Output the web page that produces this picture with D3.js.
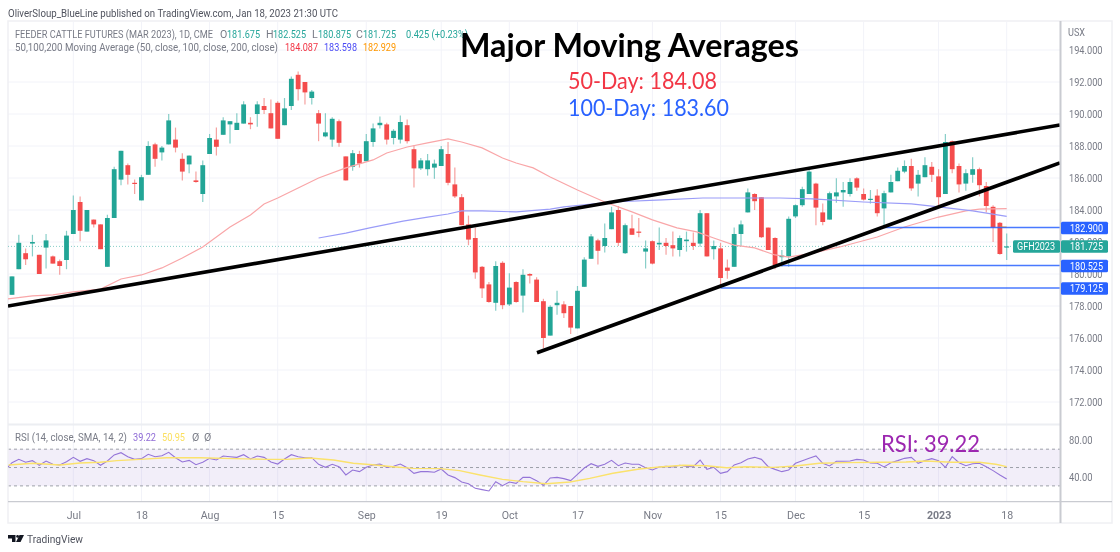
<!DOCTYPE html>
<html>
<head>
<meta charset="utf-8">
<script src="https://cdn.jsdelivr.net/npm/d3@7"></script>
<style>
html,body{margin:0;padding:0;background:#fff;}
text{font-family:Roboto,sans-serif;}
svg{filter:blur(0.3px);}
</style>
</head>
<body>
<div id="chart"></div>
<script>
// daily bars, first bar is index 0
var opens=[178.7,180.3,181.3,181.9,181.2,181.65,181.1,180.8,180.875,182.5,
184.5,182.65,183.4,183.1,180.45,183.5,185.9,186.8,185.7,184.6,
186.2,188.1,187.6,188.1,188.4,187.2,186.85,185.85,185,187.5,
188.4,188.7,189.35,189,189.4,189.45,190,190.5,190.05,190.7,
189.3,190.5,192.45,192,191,190.05,188.6,188.4,189.55,187.35,
186.7,187.5,187.05,188.25,189.3,189.35,188.5,188.4,189.3,187.8,
186.6,186.55,186.65,186.75,187.5,185.6,184.8,183.1,182.25,180.45,
179.35,178.2,180.7,178.1,179.5,178.65,180,179.65,178.3,176.15,
178.05,178.1,178,176.6,179.2,180.95,182.1,181.75,182.8,184,
181.3,182.85,182.65,181.4,182.05,181.85,181.95,181.8,181.5,182.05,
181.95,181.9,183.8,181.55,181.6,180.4,180.45,182.5,183.85,185,
184.8,182.9,182.25,181.05,181.1,183.6,184.3,185,185.65,183.85,
183.4,184.85,185.1,185,185.98,185,184.65,184.9,184.1,185.1,
185.8,186.4,186.75,185.65,186.05,186.7,186.1,185,188.3,186.75,
185.65,186.2,186.55,185.5,184.2,183.2,181.675];
var highs=[179.85,182.45,181.6,182.45,181.2,182.5,181.15,180.9,182.7,184.9,
184.85,184,183.4,183.1,183.7,186.7,187.7,186.9,185.9,186.2,
188.3,188.2,188,190,189.15,187.55,187.4,186.4,187.1,188.75,
189.15,189.8,189.55,190.05,190.8,189.8,190.8,191,190.9,190.8,
191,192.35,192.65,192,191.5,190.25,190.05,189.8,189.65,187.35,
187.75,187.7,188.75,189.4,189.85,189.45,189.05,189.9,189.65,188.05,
187.25,187.5,187.15,188,188.25,186.65,185,183.65,182.9,180.5,
179.5,180.8,180.8,180.05,179.55,180.3,180.05,179.8,178.45,178.05,
178.95,178.3,178,179.25,181.05,182.5,182.2,183.15,184.2,184.25,
183.15,183.7,183.5,182.1,182.1,182.9,182.25,182.65,182.4,182.65,
182.6,184,183.8,182.1,181.95,180.9,182.9,183.35,185.35,185.05,
184.8,182.9,182.3,181.5,183.6,184.35,185.45,186.7,185.7,184.4,
185.15,185.98,185.75,185.98,186.05,185.35,185.25,185.3,185.2,186.2,
186.65,187.1,187.2,186.5,187.3,187,186.55,188.75,188.35,186.9,
186.55,187.3,186.65,185.75,184.3,183.25,182.525];
var lows=[178.7,180.3,180.56,181.1,180,180.35,180.65,179.95,180.3,182.5,
182.05,182.65,182.9,181.55,180.45,183.5,185.55,185.6,185,184.6,
186.2,186.7,187.1,188.1,187.6,185.85,186.3,185.7,184.5,187.5,
187.4,188.7,188.15,189,189.4,189.05,189.2,190,189.1,188.45,
189.3,190.25,190.85,190.6,190.6,188.3,188.55,187.95,187.95,185.85,
186.45,186.65,187.05,187.95,189.1,188.1,188.1,188.15,188.15,185.4,
186.5,186.15,185.95,186.75,185.55,184.75,183.05,181.8,179.7,178.5,
178.2,177.7,177.8,178,178.2,177.6,179.4,178.25,175.35,176.15,
177.45,177.25,176.25,176.6,179.2,180.95,180.6,181.35,182.8,181.75,
181.25,182.45,182.3,180.35,180.6,181.5,181.2,181.1,181.1,181.4,
181.5,181.7,181.1,180.9,179.15,179.7,180.45,181.75,183.85,184,
182.25,181.5,180.3,180.45,180.45,183.5,184.2,185,183.05,183.05,
183.4,184.45,184.2,184.85,185.2,184.6,184.4,183.6,182.9,185.1,
185.8,186.3,185.2,184.85,186.05,185.75,184.25,185,186.3,185.1,
185.2,185.7,184.85,183.85,182,181.2,180.875];
var closes=[179.85,181.95,180.92,182,180,182.1,180.65,180.5,182.4,184,
182.7,184,183.1,181.55,183.5,186.55,187.7,186.2,185.65,186.05,
188,187.2,187.9,189.6,187.9,186.4,187.4,185.75,186.8,188.5,
187.95,189.6,189.55,189.45,190.6,189.35,190.6,190.25,189.1,188.45,
190.35,192.2,191.55,191.35,191.4,189.4,188.85,189.7,188.2,185.85,
187.55,186.9,188.3,189.1,189.45,188.4,188.95,189.5,188.3,186.6,
187.1,187.1,186.9,187.8,185.7,184.85,183.05,182.15,180.1,179.1,
178.25,180.5,178.05,179.15,178.25,179.95,179.9,178.25,176,177.95,
178.2,177.55,176.65,178.95,180.9,182.35,181.45,182.25,183.85,181.95,
183.05,182.45,182.6,181.6,180.65,181.95,181.75,181.6,182.25,182.15,
181.75,183.8,181.1,181.75,179.75,180.2,182.5,183.1,185.1,184.55,
182.3,181.5,180.55,181.15,183.45,184.3,185.3,186.4,184.15,183.25,
185.05,185.1,185.25,185.75,185.4,184.65,184.7,183.8,185.05,185.75,
186.45,186.75,185.35,186.2,186.8,186.2,184.8,188.25,186.55,185.6,
186.3,186.55,185.55,184.25,182.9,181.25,181.725];

// moving averages, bar index then value
var ma50Bars=[-0.6,3,6,9,13,16,19,22,25,28,32,35,37,39,42,45,49,53,55,58,61,64,66,69,72,74,76.5,79,83,87,91,94,97.6,100.5,103,106,109,112,114,117.5,121.5,127,131,136,140,142,146];
var ma50=[178.44,178.63,178.69,178.88,179.06,179.69,179.94,180.38,181,181.69,182.94,183.69,184.38,184.75,185.38,186,186.63,187.13,187.56,187.94,188.19,188.44,188.25,187.88,187.25,186.94,186.63,186.06,185.25,184.5,183.88,183.38,182.88,182.63,182.25,181.81,181.63,181.19,181.06,181.31,181.69,182.31,182.94,183.56,183.94,184.06,184.087];
var ma100Bars=[45,49,52.5,57.4,61,64,66,69,74,79,81,88,95.5,101.4,108,112.7,117.5,125,132,136,141,146];
var ma100=[182.25,182.56,182.88,183.31,183.56,183.75,183.94,183.94,183.88,184.06,184.19,184.5,184.63,184.75,184.75,184.75,184.69,184.5,184.38,184.19,183.94,183.598];
var ma200Bars=[145,146];
var ma200=[182.94,182.929];

// rsi, starts one bar before the first candle
var rsi=[47.3,55.3,58.9,55.7,57.5,52.4,57.1,53.5,52.8,56.4,61.1,56.8,59.7,57.5,52.4,57.1,63.7,66.2,61.8,58.9,59.7,64.4,61.8,62.9,66.6,60.7,56,57.8,53.1,55.7,60,58.2,62.6,61.8,61.1,64,59.3,62.6,61.1,56,53.8,59.3,64,61.8,60.7,60.7,53.5,50.2,53.5,50.9,41.9,47.3,45.5,50.2,52.8,
53.8,50.2,51.3,53.8,49.8,43.7,45.5,45.5,44.8,48.4,41.9,39,34.2,32.4,27.3,25.9,24.4,34.6,30.2,34.2,32.8,39.3,39.3,35.7,30.6,38.6,39.3,37.9,35.7,42.6,49.5,54.2,51.3,53.5,57.8,52,54.9,53.5,53.5,49.8,47.3,50.6,51.3,50.6,52.4,51.3,50.9,58.2,48,50.2,43.7,45.5,52.8,55.3,59.3,
61.1,58.9,50.9,48,45.5,47.3,54.6,57.5,60,62.6,54.6,51.7,56.8,56.8,57.1,58.9,58.2,54.9,54.6,50.6,55.3,57.5,60,61.1,54.6,57.5,59.7,57.5,50.2,61.8,55.3,52,54.2,54.6,50.9,46.6,41.9,37.5,39.22];
var rsiSmaBars=[-0.5,3.1,7,10,12.9,15.4,18.8,22.7,27.6,32.5,37.4,40.3,43.7,47.2,50.1,52.9,55.9,58.9,62.8,65.7,68.7,72,75,78.4,81.9,84.8,88.2,92.1,95,98.5,101.9,104.9,107.7,111.7,115,118.5,122.4,127.3,131.2,134.1,138,142,144.4,146];
var rsiSma=[52.8,54.6,52.8,54.9,55.7,57.5,58.9,60.7,60.7,59.7,58.9,58.9,60.4,58.2,54.6,53.1,50.9,49.1,48.8,46.6,41.9,37.1,34.6,32.4,34.2,38.2,43.7,48.4,50.6,52.4,52,49.8,50.9,50.2,51.7,54.6,55.3,55.7,56,57.1,55.7,55.7,53.5,50.95];

// drawn lines, bar index and price
var trendBars=[[-0.59,153.8],[77.06,153.8]];
var trendPrices=[[178,189.31],[175.08,186.94]];
var levelValues=[182.9,180.525,179.125];
var levelStart=[128,112.5,104];
var levelLabels=["182.900","180.525","179.125"];

var priceTicks=[194,192,190,188,186,184,182,180,178,176,174,172];
var rsiTicks=[80,40];
var timeBars=[9,19,29,39,52,63,73,83,94,104,115,125,136,146];
var timeLabels=["Jul","18","Aug","15","Sep","19","Oct","17","Nov","15","Dec","15","2023","18"];

var UP="#26a69a", DOWN="#ef5350", GRID="#f2f3f9", AXIS="#c9cbd1", TXT="#787b86", BLUE="#2962ff";
var lastPrice=closes[closes.length-1];

var left=8, right=1060, outer=1112;

var svg=d3.select("#chart").append("svg")
	.attr("width",1120).attr("height",552)
	.style("display","block");

var x=d3.scaleLinear().domain([0,146]).range([12,1006.7]);
var y=d3.scaleLinear().domain([172,194]).range([402,50]);
var yr=d3.scaleLinear().domain([40,80]).range([476.7,440]);

var defs=svg.append("defs");
defs.append("clipPath").attr("id","mainclip").append("rect").attr("x",left).attr("y",22).attr("width",right-left).attr("height",402);
defs.append("clipPath").attr("id","rsiclip").append("rect").attr("x",left).attr("y",425).attr("width",right-left).attr("height",76);

// grid
var g=svg.append("g");
g.selectAll(".hg").data(priceTicks).enter().append("line")
	.attr("x1",left).attr("x2",right).attr("y1",function(d){return y(d);}).attr("y2",function(d){return y(d);})
	.attr("stroke",GRID);
g.selectAll(".vg").data(timeBars).enter().append("line")
	.attr("x1",function(d){return x(d);}).attr("x2",function(d){return x(d);}).attr("y1",22).attr("y2",501)
	.attr("stroke",GRID);

// rsi band
svg.append("rect").attr("x",left).attr("width",right-left)
	.attr("y",yr(70)).attr("height",yr(30)-yr(70))
	.attr("fill","#7e57c2").attr("fill-opacity",0.1);
[70,50,30].forEach(function(v){
	svg.append("line").attr("x1",left).attr("x2",right).attr("y1",yr(v)).attr("y2",yr(v))
		.attr("stroke","#9598a1").attr("stroke-dasharray","3,3").attr("stroke-opacity",0.9);
});

// frame
svg.append("rect").attr("x",left).attr("y",21).attr("width",outer-left).attr("height",502)
	.attr("fill","none").attr("stroke","#eff0f3").attr("stroke-width",1.5);
svg.append("line").attr("x1",left).attr("x2",right).attr("y1",424.5).attr("y2",424.5).attr("stroke","#eceef2").attr("stroke-width",2);

// last price dotted line
svg.append("line").attr("x1",left).attr("x2",right).attr("y1",y(lastPrice)).attr("y2",y(lastPrice))
	.attr("stroke",UP).attr("stroke-opacity",0.55).attr("stroke-dasharray","1,2");

// candles
var main=svg.append("g").attr("clip-path","url(#mainclip)");
var bars=main.selectAll(".bar").data(closes).enter().append("g").attr("class","bar");
bars.append("line")
	.attr("x1",function(d,i){return x(i);}).attr("x2",function(d,i){return x(i);})
	.attr("y1",function(d,i){return y(highs[i]);}).attr("y2",function(d,i){return y(lows[i]);})
	.attr("stroke",function(d,i){return d>=opens[i]?UP:DOWN;})
	.attr("stroke-opacity",0.55).attr("stroke-width",1.2);
bars.append("rect")
	.attr("x",function(d,i){return x(i)-2.4;}).attr("width",4.8)
	.attr("y",function(d,i){return y(Math.max(d,opens[i]));})
	.attr("height",function(d,i){return Math.max(1.2,Math.abs(y(d)-y(opens[i])));})
	.attr("fill",function(d,i){return d>=opens[i]?"#22a596":"#f44c4c";});

// moving averages
function DrawLine(parent,xs,ys,yscale,color,width)
{
	var line=d3.line().x(function(d,i){return x(xs[i]);}).y(function(d){return yscale(d);});
	parent.append("path").datum(ys).attr("d",line).attr("fill","none").attr("stroke",color).attr("stroke-width",width);
}
DrawLine(main,ma50Bars,ma50,y,"#f9a6a8",1.2);
DrawLine(main,ma100Bars,ma100,y,"#9a9cf8",1.2);
DrawLine(main,ma200Bars,ma200,y,"#ff9800",1);

// levels
levelValues.forEach(function(v,i){
	main.append("line").attr("x1",x(levelStart[i])).attr("x2",right).attr("y1",y(v)).attr("y2",y(v))
		.attr("stroke",BLUE).attr("stroke-opacity",0.85).attr("stroke-width",1.5);
});

// trend lines
trendBars.forEach(function(b,i){
	main.append("line").attr("x1",x(b[0])).attr("x2",x(b[1]))
		.attr("y1",y(trendPrices[i][0])).attr("y2",y(trendPrices[i][1]))
		.attr("stroke","#000").attr("stroke-width",3.6);
});

// rsi lines
var rp=svg.append("g").attr("clip-path","url(#rsiclip)");
DrawLine(rp,d3.range(-1,146+1),rsi,yr,"#9575d8",1.1);
DrawLine(rp,rsiSmaBars,rsiSma,yr,"#fbe26c",1.4);

// axes
var yAxis=d3.axisRight(y).tickValues(priceTicks).tickFormat(d3.format(".3f")).tickSize(0).tickPadding(9);
var ya=svg.append("g").attr("transform","translate("+right+",0)").call(yAxis);
var yrAxis=d3.axisRight(yr).tickValues(rsiTicks).tickFormat(d3.format(".2f")).tickSize(0).tickPadding(9);
var yb=svg.append("g").attr("transform","translate("+right+",0)").call(yrAxis);
var xAxis=d3.axisBottom(x).tickValues(timeBars).tickFormat(function(d,i){return timeLabels[i];}).tickSize(0).tickPadding(9);
var xa=svg.append("g").attr("transform","translate(0,502)").call(xAxis);
[ya,yb,xa].forEach(function(a){
	a.select(".domain").remove();
	a.selectAll("text").attr("fill",TXT).attr("font-size",10.6).attr("font-family","Roboto,sans-serif");
});
ya.selectAll("text").attr("textLength",33.5).attr("lengthAdjust","spacingAndGlyphs");
yb.selectAll("text").attr("textLength",23.5).attr("lengthAdjust","spacingAndGlyphs");
xa.selectAll("text").filter(function(d,i){return timeLabels[i]=="2023";}).attr("font-weight",700);

svg.append("line").attr("x1",left).attr("x2",outer).attr("y1",501.7).attr("y2",501.7).attr("stroke",AXIS).attr("stroke-width",1.3);
svg.append("line").attr("x1",right+0.5).attr("x2",right+0.5).attr("y1",21).attr("y2",523).attr("stroke",AXIS).attr("stroke-width",2);

// texts, w is the width the text has to fill
function Txt(xp,yp,str,color,size,w,weight,font)
{
	var t=svg.append("text").attr("x",xp).attr("y",yp).attr("fill",color).attr("font-size",size).attr("font-weight",weight||400).text(str);
	if (w) t.attr("textLength",w).attr("lengthAdjust","spacingAndGlyphs");
	if (font) t.style("font-family",font);
	return t;
}

// price tags
function Tag(xp,yp,w,h,color,label,tx,tw)
{
	svg.append("rect").attr("x",xp).attr("y",yp-h/2).attr("width",w).attr("height",h).attr("rx",1.5).attr("fill",color);
	Txt(tx,yp+3.8,label,"#fff",10.6,tw);
}
levelValues.forEach(function(v,i){
	Tag(right+1,y(v)+0.5,47,12.5,BLUE,levelLabels[i],1070,33);
});
Tag(right+1,y(lastPrice),47,12.5,UP,d3.format(".3f")(lastPrice),1070,33);
Tag(1013,y(lastPrice),47,12.5,UP,"GFH2023",1017,38);

// top texts
Txt(8,17,"OliverSloup_BlueLine published on TradingView.com, Jan 18, 2023 21:30 UTC","#50535e",10.6,330);
Txt(15,38,"FEEDER CATTLE FUTURES (MAR 2023), 1D, CME",TXT,10.6,198);
Txt(220,38,"O",TXT,10.6); Txt(227,38,"181.675",UP,10.6,33);
Txt(266,38,"H",TXT,10.6); Txt(273,38,"182.525",UP,10.6,33);
Txt(312,38,"L",TXT,10.6); Txt(318,38,"180.875",UP,10.6,33);
Txt(356,38,"C",TXT,10.6); Txt(363,38,"181.725",UP,10.6,33);
Txt(406,38,"0.425 (+0.23%)",UP,10.6,62);
Txt(15,51,"50,100,200 Moving Average (50, close, 100, close, 200, close)",TXT,10.6,263);
Txt(285,51,"184.087","#f23645",10.6,33);
Txt(324,51,"183.598","#4a4af5",10.6,33);
Txt(363,51,"182.929","#ff9800",10.6,33);
Txt(15,441,"RSI (14, close, SMA, 14, 2)",TXT,10.6,112);
Txt(133,441,"39.22","#8f6bd6",10.6,23);
Txt(162,441,"50.95","#fbdf5e",10.6,23);
Txt(192,441,"\u00d8",TXT,10.6);
Txt(204,441,"\u00d8",TXT,10.6);
Txt(1068,36,"USX",TXT,10.6,17);

Txt(460,57,"Major Moving Averages","#000",33,339,700,"Lato,sans-serif");
Txt(568,89,"50-Day: 184.08","#f23645",23,149,400,"Lato,sans-serif");
Txt(568,116,"100-Day: 183.60",BLUE,23,161,400,"Lato,sans-serif");
Txt(881,452,"RSI: 39.22","#9c27b0",23,99,400,"Lato,sans-serif");

// logo and footer
svg.append("path").attr("d","M8 535h7.5v7h-3.5v-3.5H8z M16 542l3.5-7h4.5l-3.5 7z").attr("fill","#131722");
svg.append("circle").attr("cx",17.6).attr("cy",536.4).attr("r",1.4).attr("fill","#131722");
Txt(27,542.5,"TradingView","#50535e",11.5,56);
</script>
</body>
</html>
